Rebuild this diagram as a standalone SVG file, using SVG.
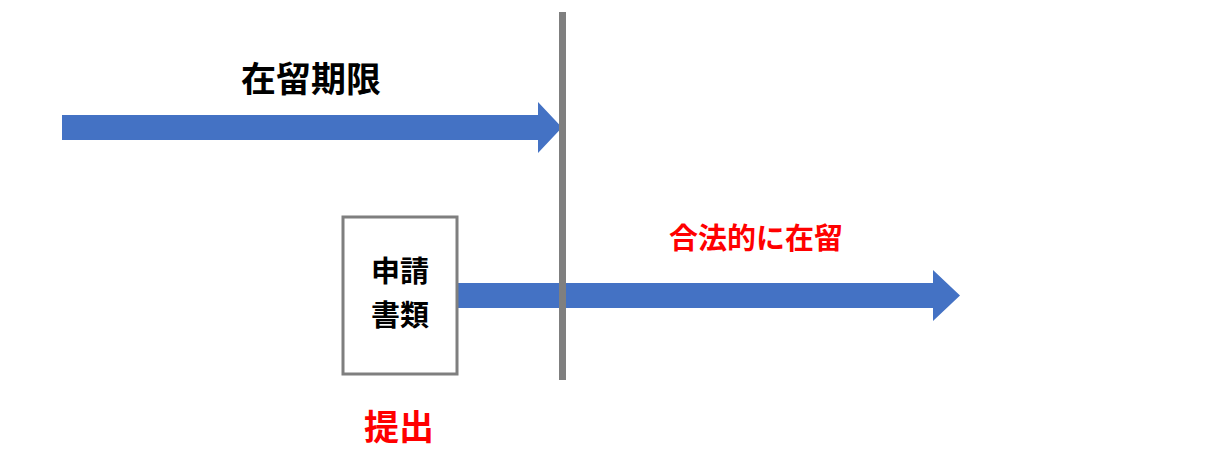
<svg xmlns="http://www.w3.org/2000/svg" width="1222" height="467" viewBox="0 0 1222 467">
<style>
.t{font-family:"Noto Sans CJK JP","Noto Sans CJK SC",sans-serif;font-weight:bold;text-anchor:middle}
.arrow{fill:#4472C4}
</style>
<rect width="1222" height="467" fill="#fff"/>
<g id="connectors">
<polygon class="arrow" points="62,115 538,115 538,102 562,127.5 538,153 538,140 62,140"/>
<polygon class="arrow" points="457,283 933,283 933,270 960,295.5 933,321 933,308 457,308"/>
</g>
<g id="deadline-line"><rect x="559" y="12" width="7" height="368" fill="#7F7F7F"/></g>
<g id="label-top"><text class="t" x="311" y="92" font-size="35" fill="#000">在留期限</text></g>
<g id="label-legal"><text class="t" x="756" y="249" font-size="29" fill="#FF0000">合法的に在留</text></g>
<g id="doc">
<rect x="343" y="217" width="114" height="157" fill="#fff" stroke="#7F7F7F" stroke-width="3"/>
<text class="t" x="400" y="282" font-size="29" fill="#000">申請</text>
<text class="t" x="400" y="326" font-size="29" fill="#000">書類</text>
</g>
<g id="label-submit"><text class="t" x="399" y="440" font-size="35" fill="#FF0000">提出</text></g>
</svg>
